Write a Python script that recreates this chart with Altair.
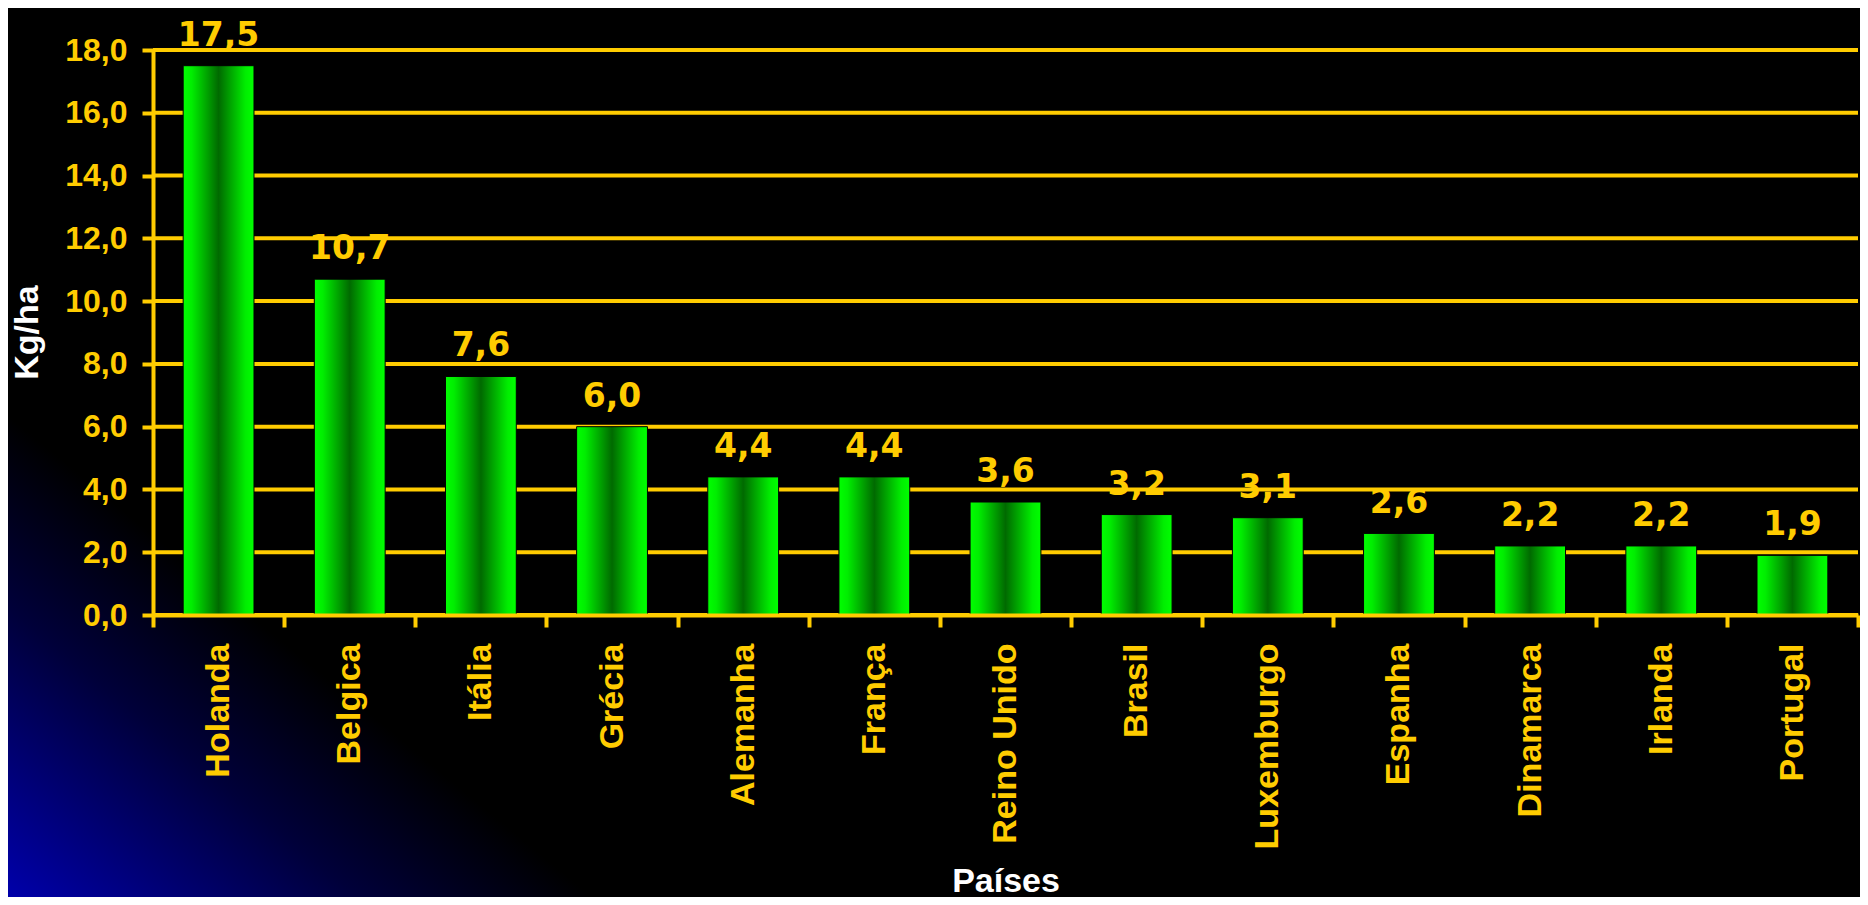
import altair as alt
import pandas as pd

# ---- data ----
countries = ["Holanda", "Belgica", "Itália", "Grécia", "Alemanha", "França",
             "Reino Unido", "Brasil", "Luxemburgo", "Espanha", "Dinamarca",
             "Irlanda", "Portugal"]
values = [17.5, 10.7, 7.6, 6.0, 4.4, 4.4, 3.6, 3.2, 3.1, 2.6, 2.2, 2.2, 1.9]
y_ticks = [0, 2, 4, 6, 8, 10, 12, 14, 16, 18]

YELLOW = "#FFCC00"
LABEL_FONT = "Liberation Sans"
VALUE_FONT = "DejaVu Sans"

df = pd.DataFrame({
    "pais": countries,
    "valor": values,
    "rotulo": [f"{v:.1f}".replace(".", ",") for v in values],
})
grid_df = pd.DataFrame({"valor": y_ticks})
deco_df = pd.DataFrame({"d": [0]})

x_scale = alt.Scale(paddingInner=0, paddingOuter=0)
y_scale = alt.Scale(domain=[0, 18], nice=False, zero=True)

x_axis = alt.Axis(
    title="Países", titleColor="white", titleFont=LABEL_FONT, titleFontSize=34,
    titleFontWeight="bold", titleY=276, titleBaseline="alphabetic",
    labelAngle=270, labelAlign="right", labelBaseline="middle",
    labelFont=LABEL_FONT, labelFontSize=34, labelFontWeight="bold",
    labelColor=YELLOW, labelPadding=16, labelLimit=0,
    tickBand="extent", tickSize=12, tickWidth=4, tickColor=YELLOW,
    domainColor=YELLOW, domainWidth=4, grid=False, zindex=1,
)
y_axis = alt.Axis(
    title="Kg/ha", titleColor="white", titleFont=LABEL_FONT, titleFontSize=34,
    titleFontWeight="bold", titleAngle=270, titleX=-116, titleY=282,
    titleBaseline="alphabetic", titleAlign="center",
    values=y_ticks,
    labelExpr="replace(format(datum.value, '.1f'), '.', ',')",
    labelFont=LABEL_FONT, labelFontSize=32, labelFontWeight="bold",
    labelColor=YELLOW, labelPadding=15, labelLimit=0,
    tickSize=11, tickWidth=4, tickColor=YELLOW,
    domainColor=YELLOW, domainWidth=4, grid=False, zindex=1,
)

# decorative blue glow in the lower-left corner of the slide background
deco = alt.Chart(deco_df).mark_rect(
    fill=alt.Gradient(
        gradient="linear", x1=0, y1=1, x2=1, y2=0,
        stops=[alt.GradientStop(color="#0000aa", offset=0),
               alt.GradientStop(color="#00003a", offset=0.3),
               alt.GradientStop(color="#000000", offset=0.5),
               alt.GradientStop(color="#000000", offset=1)],
    )
).encode(
    x=alt.value(-145), x2=alt.value(440),
    y=alt.value(365), y2=alt.value(847),
)

grid = alt.Chart(grid_df).mark_rule(color=YELLOW, strokeWidth=4).encode(
    y=alt.Y("valor:Q", scale=y_scale, axis=y_axis)
)

bar_fill = alt.Gradient(
    gradient="linear", x1=0, y1=0, x2=1, y2=0,
    stops=[alt.GradientStop(color="#00ff00", offset=0),
           alt.GradientStop(color="#00ee00", offset=0.12),
           alt.GradientStop(color="#006a00", offset=0.5),
           alt.GradientStop(color="#00ee00", offset=0.88),
           alt.GradientStop(color="#00ff00", offset=1)],
)

bars = alt.Chart(df).mark_bar(
    fill=bar_fill, stroke="#000000", strokeWidth=1,
    width=alt.RelativeBandSize(0.54),
).encode(
    x=alt.X("pais:N", sort=None, scale=x_scale, axis=x_axis),
    y=alt.Y("valor:Q", scale=y_scale, axis=y_axis),
)

labels = alt.Chart(df).mark_text(
    font=VALUE_FONT, fontSize=33, fontWeight="bold", color=YELLOW,
    baseline="alphabetic", align="center", dy=-20,
).encode(
    x=alt.X("pais:N", sort=None, scale=x_scale, axis=x_axis),
    y=alt.Y("valor:Q", scale=y_scale, axis=y_axis),
    text="rotulo:N",
)

chart = alt.layer(deco, grid, bars, labels).properties(
    width=1705, height=565,
    autosize=alt.AutoSizeParams(type="none"),
    padding={"left": 145, "top": 42, "right": 2, "bottom": 282},
    background="#000000",
).configure_view(stroke=None)

chart.save("out.html", embed_options={"renderer": "svg", "actions": False})
